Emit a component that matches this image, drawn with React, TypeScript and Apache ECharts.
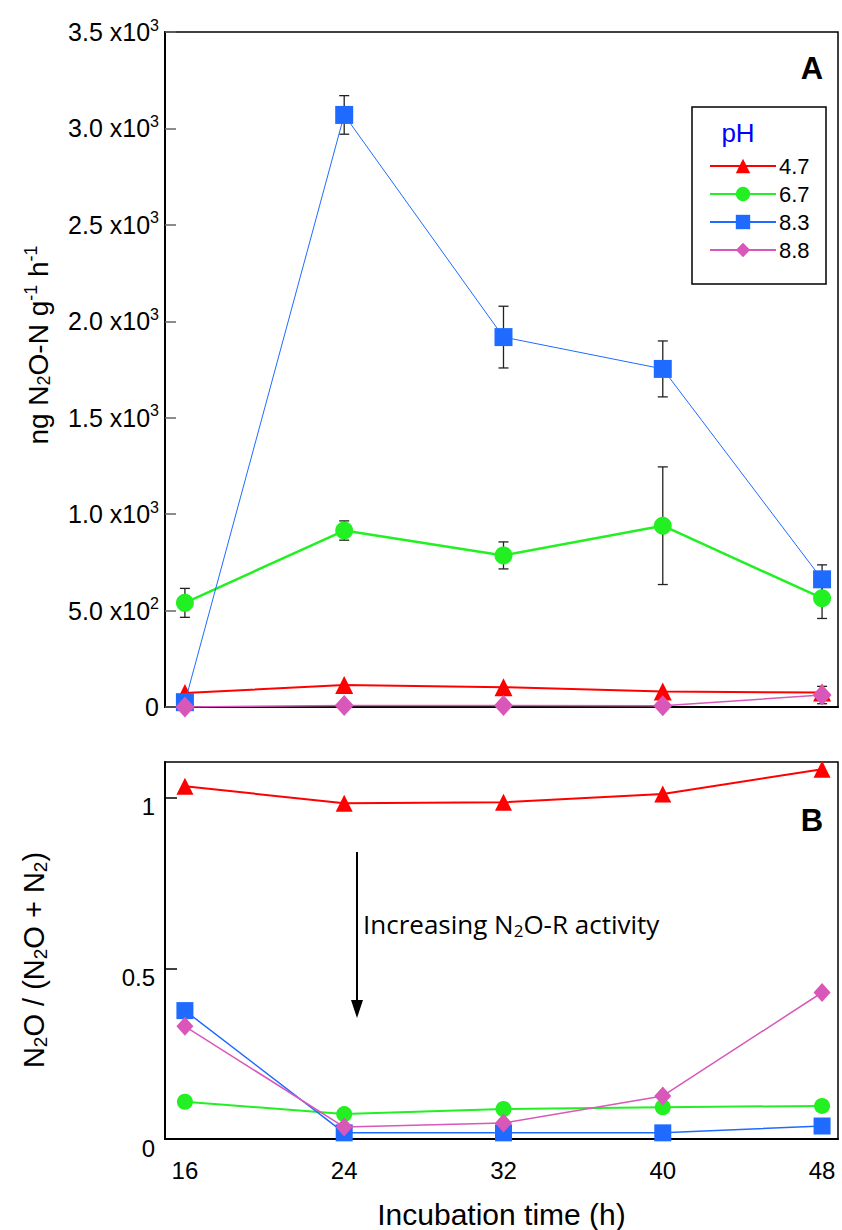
import React, { useEffect, useRef } from "react";
import * as echarts from "echarts";

const hours = [16, 24, 32, 40, 48];
const seriesNames = ["4.7", "6.7", "8.3", "8.8"];
const fluxTicks = [0, 500, 1000, 1500, 2000, 2500, 3000, 3500];
const ratioTicks = [0, 0.5, 1];

// Panel A: N2O flux (ng N2O-N g-1 h-1)
const ph47Flux = [72, 114, 103, 80, 75];
const ph67Flux = [540, 915, 786, 940, 564];
const ph83Flux = [25, 3070, 1918, 1753, 662];
const ph88Flux = [0, 8, 8, 6, 62];
const ph67Err = [75, 50, 70, 305, 105];
const ph83Err = [0, 100, 160, 145, 75];
const ph88Err = [0, 0, 0, 0, 45];

// Panel B: N2O / (N2O + N2)
const ph47Ratio = [1.033, 0.983, 0.986, 1.01, 1.083];
const ph67Ratio = [0.109, 0.073, 0.088, 0.093, 0.097];
const ph83Ratio = [0.376, 0.018, 0.018, 0.018, 0.038];
const ph88Ratio = [0.33, 0.035, 0.047, 0.126, 0.429];

const COLORS = ["#ff0000", "#22f022", "#1f6bff", "#d957b8"];
const SYMBOLS = ["triangle", "circle", "rect", "diamond"];
const WIDTHS = [2, 2.5, 1, 1.5];
const WIDTHS_B = [2, 2, 1.5, 1.5];
const FONT = "'Liberation Sans', Arial, sans-serif";

const pairs = (ys: number[]) => hours.map((h, i) => [h, ys[i]]);
const errTriples = (ys: number[], es: number[]) =>
  hours.map((h, i) => [h, ys[i], es[i]]).filter((d) => d[2] > 0);

function errorRender(params: any, api: any) {
  const x = api.value(0);
  const y = api.value(1);
  const e = api.value(2);
  const top = api.coord([x, y + e]);
  const bot = api.coord([x, y - e]);
  const cw = 5;
  const st = { stroke: "#222", lineWidth: 1.3 };
  return {
    type: "group",
    children: [
      { type: "line", shape: { x1: top[0], y1: top[1], x2: bot[0], y2: bot[1] }, style: st },
      { type: "line", shape: { x1: top[0] - cw, y1: top[1], x2: top[0] + cw, y2: top[1] }, style: st },
      { type: "line", shape: { x1: bot[0] - cw, y1: bot[1], x2: bot[0] + cw, y2: bot[1] }, style: st },
    ],
  };
}

export default function App() {
  const ref = useRef<HTMLDivElement>(null);
  useEffect(() => {
    if (!ref.current) return;
    const chart = echarts.init(ref.current, null, { renderer: "svg" });

    const fluxSets = [ph47Flux, ph67Flux, ph83Flux, ph88Flux];
    const ratioSets = [ph47Ratio, ph67Ratio, ph83Ratio, ph88Ratio];
    const errSets: [number[], number[]][] = [
      [ph67Flux, ph67Err],
      [ph83Flux, ph83Err],
      [ph88Flux, ph88Err],
    ];

    const xAxisBase = {
      type: "value",
      min: 15,
      max: 48.8,
      splitLine: { show: false },
      axisTick: { show: false },
      axisLine: { lineStyle: { color: "#000", width: 2 } },
    };

    const series: any[] = [];
    errSets.forEach(([ys, es], k) => {
      series.push({
        name: "err" + k,
        type: "custom",
        xAxisIndex: 0,
        yAxisIndex: 0,
        renderItem: errorRender,
        data: errTriples(ys, es),
        z: 1,
        silent: true,
      });
    });
    seriesNames.forEach((n, i) => {
      series.push({
        name: n,
        type: "line",
        xAxisIndex: 0,
        yAxisIndex: 0,
        data: pairs(fluxSets[i]),
        symbol: SYMBOLS[i],
        symbolSize: i === 3 ? [19, 21] : 18,
        itemStyle: { color: COLORS[i] },
        lineStyle: { color: COLORS[i], width: WIDTHS[i] },
        z: 3 + i,
      });
    });
    seriesNames.forEach((n, i) => {
      series.push({
        name: n,
        type: "line",
        xAxisIndex: 1,
        yAxisIndex: 1,
        data: pairs(ratioSets[i]),
        symbol: SYMBOLS[i],
        symbolSize: i === 3 ? [17, 19] : i === 1 ? 16 : 17,
        itemStyle: { color: COLORS[i] },
        lineStyle: { color: COLORS[i], width: WIDTHS_B[i] },
        z: 3 + i,
      });
    });

    chart.setOption({
      animation: false,
      backgroundColor: "#fff",
      textStyle: { fontFamily: FONT },
      grid: [
        { left: 165, right: 4, top: 32, height: 675, show: true, borderColor: "#000", borderWidth: 1.5 },
        { left: 165, right: 4, top: 762, height: 378, show: true, borderColor: "#000", borderWidth: 1.5 },
      ],
      xAxis: [
        { ...xAxisBase, gridIndex: 0, axisLabel: { show: false } },
        {
          ...xAxisBase,
          gridIndex: 1,
          axisLabel: {
            customValues: hours,
            fontSize: 24,
            color: "#000",
            margin: 19,
            fontFamily: FONT,
          },
          name: "Incubation time (h)",
          nameLocation: "middle",
          nameGap: 60,
          nameTextStyle: { fontSize: 30, color: "#000", fontFamily: FONT },
        },
      ],
      yAxis: [
        {
          type: "value",
          gridIndex: 0,
          min: 0,
          max: 3500,
          interval: 500,
          splitLine: { show: false },
          axisLine: { show: true, lineStyle: { color: "#000", width: 2 } },
          axisTick: { show: true, inside: true, length: 11, lineStyle: { color: "#666", width: 1.5 } },
          axisLabel: {
            customValues: fluxTicks,
            margin: 6,
            formatter: (v: number) => {
              if (v === 0) return "{m|0}";
              if (v < 1000) return "{m|" + (v / 100).toFixed(1) + " x10}{s|2}";
              return "{m|" + (v / 1000).toFixed(1) + " x10}{s|3}";
            },
            rich: {
              m: { fontSize: 25, color: "#000", fontFamily: FONT },
              s: { fontSize: 16, color: "#000", fontFamily: FONT, padding: [0, 0, 14, 0] },
            },
          },
        },
        {
          type: "value",
          gridIndex: 1,
          min: 0,
          max: 1.104,
          splitLine: { show: false },
          axisLine: { show: true, lineStyle: { color: "#000", width: 2 } },
          axisTick: { show: true, inside: true, length: 12, customValues: ratioTicks, lineStyle: { color: "#000", width: 1.5 } },
          axisLabel: {
            customValues: ratioTicks,
            margin: 10,
            verticalAlign: "middle",
            formatter: (v: number) => "{v|" + (v === 1 ? "1" : v === 0 ? "0" : String(v)) + "}",
            rich: {
              v: { fontSize: 24, color: "#000", fontFamily: FONT, padding: [18, 0, 0, 0] },
            },
          },
        },
      ],
      legend: {
        data: seriesNames,
        orient: "vertical",
        left: 704,
        top: 150,
        itemWidth: 66,
        itemHeight: 18,
        itemGap: 6,
        textStyle: { fontSize: 22, color: "#000", fontFamily: FONT, padding: [0, 0, 0, -2] },
        selectedMode: false,
      },
      graphic: [
        {
          type: "rect",
          shape: { x: 692, y: 107, width: 134, height: 177 },
          style: { fill: "rgba(0,0,0,0)", stroke: "#000", lineWidth: 1.5 },
          z: 10,
        },
        {
          type: "text",
          x: 738,
          y: 133,
          style: { text: "pH", fill: "#0000ff", fontSize: 26, fontFamily: FONT, align: "center", verticalAlign: "middle" },
        },
        {
          type: "text",
          x: 812,
          y: 68,
          style: { text: "A", fill: "#000", fontSize: 31, fontWeight: "bold", fontFamily: FONT, align: "center", verticalAlign: "middle" },
        },
        {
          type: "text",
          x: 812,
          y: 820,
          style: { text: "B", fill: "#000", fontSize: 31, fontWeight: "bold", fontFamily: FONT, align: "center", verticalAlign: "middle" },
        },
        {
          type: "text",
          x: 38,
          y: 345,
          rotation: Math.PI / 2,
          style: {
            text: "{m|ng N}{b|2}{m|O-N g}{p|-1}{m| h}{p|-1}",
            align: "center",
            verticalAlign: "middle",
            rich: {
              m: { fontSize: 28, fill: "#000", fontFamily: FONT },
              b: { fontSize: 18, fill: "#000", fontFamily: FONT, padding: [12, 0, 0, 0] },
              p: { fontSize: 18, fill: "#000", fontFamily: FONT, padding: [0, 0, 14, 0] },
            },
          },
        },
        {
          type: "text",
          x: 34,
          y: 960,
          rotation: Math.PI / 2,
          style: {
            text: "{m|N}{b|2}{m|O / (N}{b|2}{m|O + N}{b|2}{m|)}",
            align: "center",
            verticalAlign: "middle",
            rich: {
              m: { fontSize: 29, fill: "#000", fontFamily: FONT },
              b: { fontSize: 19, fill: "#000", fontFamily: FONT, padding: [12, 0, 0, 0] },
            },
          },
        },
        {
          type: "line",
          shape: { x1: 357, y1: 852, x2: 357, y2: 1004 },
          style: { stroke: "#000", lineWidth: 2 },
        },
        {
          type: "polygon",
          shape: { points: [[351, 1000], [363, 1000], [357, 1018]] },
          style: { fill: "#000" },
        },
        {
          type: "text",
          x: 363,
          y: 924,
          style: {
            text: "{m|Increasing N}{b|2}{m|O-R activity}",
            verticalAlign: "middle",
            rich: {
              m: { fontSize: 26, fill: "#000", fontFamily: "'Open Sans', sans-serif" },
              b: { fontSize: 17, fill: "#000", fontFamily: "'Open Sans', sans-serif", padding: [12, 0, 0, 0] },
            },
          },
        },
      ],
      series,
    });
    return () => chart.dispose();
  }, []);
  return <div ref={ref} style={{ position: "absolute", left: 0, top: 0, width: 842, height: 1230 }} />;
}
